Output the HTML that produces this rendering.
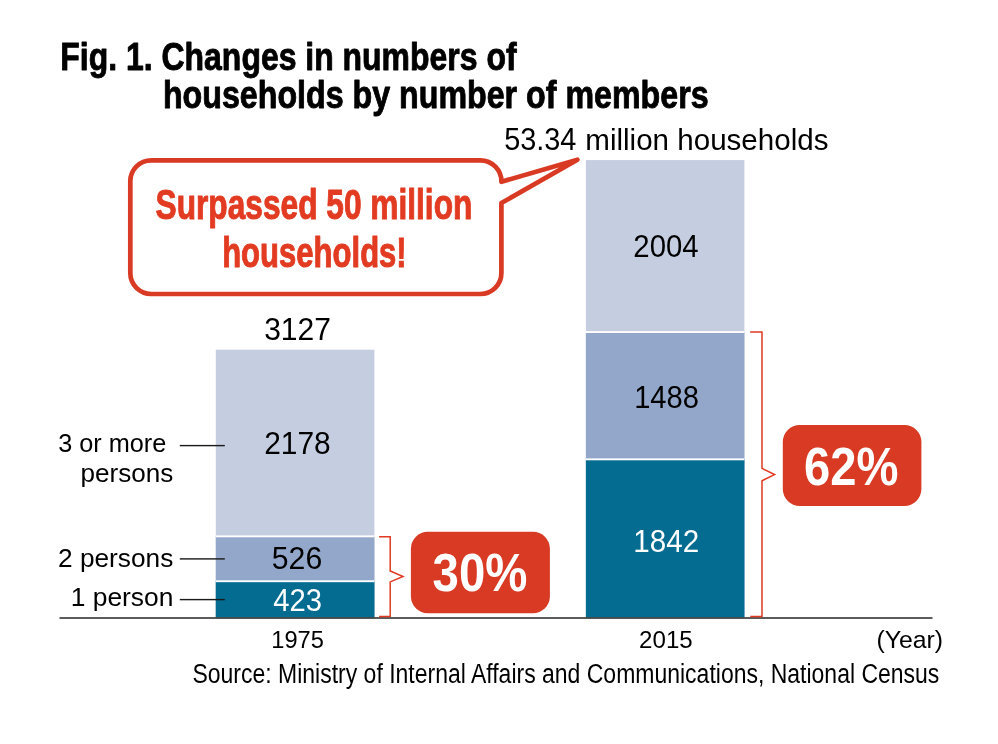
<!DOCTYPE html>
<html><head><meta charset="utf-8">
<style>
html,body{margin:0;padding:0;background:#fff;}
body{width:998px;height:744px;overflow:hidden;font-family:"Liberation Sans",sans-serif;}
svg{display:block;will-change:transform;}
text{font-family:"Liberation Sans",sans-serif;}
</style></head><body>
<svg width="998" height="744" viewBox="0 0 998 744">
<rect width="998" height="744" fill="#fff"/>
<!-- title -->
<text x="60.33" y="69.9" font-weight="bold" font-size="38.3" textLength="456.21" lengthAdjust="spacingAndGlyphs" fill="#000" stroke="#000" stroke-width="0.9" stroke-linejoin="round">Fig. 1. Changes in numbers of</text>
<text x="162.91" y="107.6" font-weight="bold" font-size="38.3" textLength="545.67" lengthAdjust="spacingAndGlyphs" fill="#000" stroke="#000" stroke-width="0.9" stroke-linejoin="round">households by number of members</text>
<!-- total label -->
<text x="504.13" y="149.9" font-size="31" textLength="72.30" lengthAdjust="spacingAndGlyphs" fill="#000">53.34</text>
<text x="585.31" y="149.8" font-size="28.7" textLength="243.15" lengthAdjust="spacingAndGlyphs" fill="#000">million households</text>
<!-- bars 1975 -->
<rect x="215.8" y="349.7" width="158.6" height="268" fill="#c5cde1"/>
<rect x="215.8" y="536.3" width="158.6" height="82" fill="#93a7ca"/>
<rect x="215.8" y="581.2" width="158.6" height="37" fill="#046c90"/>
<rect x="215.8" y="535.4" width="158.6" height="1.9" fill="#fff"/>
<rect x="215.8" y="580.3" width="158.6" height="1.9" fill="#fff"/>
<!-- bars 2015 -->
<rect x="585.9" y="160.1" width="158.5" height="458" fill="#c5cde1"/>
<rect x="585.9" y="332" width="158.5" height="286" fill="#93a7ca"/>
<rect x="585.9" y="459.2" width="158.5" height="159" fill="#046c90"/>
<rect x="585.9" y="331.1" width="158.5" height="1.9" fill="#fff"/>
<rect x="585.9" y="458.4" width="158.5" height="1.9" fill="#fff"/>
<!-- axis -->
<rect x="59.5" y="617.1" width="873" height="1.8" fill="#4a4a4a"/>
<!-- callout -->
<path d="M151.3 160.3 H480.4 A21 21 0 0 1 501.4 181.8 L577.4 159.7 L501.4 203 V273 A21 21 0 0 1 480.4 294 H151.3 A21 21 0 0 1 130.3 273 V181.3 A21 21 0 0 1 151.3 160.3 Z" fill="#fff" stroke="#d93a24" stroke-width="4.7" stroke-linejoin="round"/>
<text x="155.59" y="219.0" font-weight="bold" font-size="42.5" textLength="316.75" lengthAdjust="spacingAndGlyphs" fill="#e23b22" stroke="#e23b22" stroke-width="1.0" stroke-linejoin="round">Surpassed 50 million</text>
<text x="222.14" y="266.5" font-weight="bold" font-size="42.5" textLength="184.58" lengthAdjust="spacingAndGlyphs" fill="#e23b22" stroke="#e23b22" stroke-width="1.0" stroke-linejoin="round">households!</text>
<!-- values -->
<text x="264.18" y="340.0" font-size="31" textLength="66.78" lengthAdjust="spacingAndGlyphs" fill="#000">3127</text>
<text x="264.13" y="454.0" font-size="31" textLength="66.58" lengthAdjust="spacingAndGlyphs" fill="#000">2178</text>
<text x="271.80" y="568.7" font-size="31" textLength="50.43" lengthAdjust="spacingAndGlyphs" fill="#000">526</text>
<text x="273.29" y="610.8" font-size="31" textLength="48.77" lengthAdjust="spacingAndGlyphs" fill="#fff">423</text>
<text x="633.35" y="256.8" font-size="31" textLength="65.28" lengthAdjust="spacingAndGlyphs" fill="#000">2004</text>
<text x="634.16" y="408.0" font-size="31" textLength="64.80" lengthAdjust="spacingAndGlyphs" fill="#000">1488</text>
<text x="633.28" y="551.8" font-size="31" textLength="65.84" lengthAdjust="spacingAndGlyphs" fill="#fff">1842</text>
<!-- category labels -->
<text x="58.23" y="451.5" font-size="26.2" textLength="108.10" lengthAdjust="spacingAndGlyphs" fill="#000">3 or more</text>
<text x="80.48" y="481.8" font-size="26.2" textLength="92.80" lengthAdjust="spacingAndGlyphs" fill="#000">persons</text>
<text x="58.04" y="566.5" font-size="26.2" textLength="115.27" lengthAdjust="spacingAndGlyphs" fill="#000">2 persons</text>
<text x="70.68" y="605.5" font-size="26.2" textLength="102.76" lengthAdjust="spacingAndGlyphs" fill="#000">1 person</text>
<g fill="#1a1a1a">
<rect x="179.8" y="444.9" width="45" height="1.4"/>
<rect x="179.8" y="558.2" width="45" height="1.4"/>
<rect x="179.8" y="598.9" width="45" height="1.4"/>
</g>
<!-- brackets -->
<g fill="none" stroke="#e03a22" stroke-width="1.5" stroke-linejoin="miter">
<path d="M379.1 536.8 H390.2 V571 L403 576.5 L390.2 581.9 V616.6 H379.1"/>
<path d="M750.2 332 H762 V468.3 L774.6 474.6 L762 480.7 V616.6 H750.2"/>
</g>
<!-- percent badges -->
<rect x="410.9" y="531.8" width="139" height="81.5" rx="17" ry="17" fill="#d93a24"/>
<text x="432.62" y="590.8" font-weight="bold" font-size="53" textLength="94.77" lengthAdjust="spacingAndGlyphs" fill="#fff">30%</text>
<rect x="782.8" y="424.9" width="138.6" height="81.1" rx="17" ry="17" fill="#d93a24"/>
<text x="804.07" y="484.5" font-weight="bold" font-size="53" textLength="94.37" lengthAdjust="spacingAndGlyphs" fill="#fff">62%</text>
<!-- x labels -->
<text x="271.27" y="647.7" font-size="24.8" textLength="52.61" lengthAdjust="spacingAndGlyphs" fill="#000">1975</text>
<text x="639.10" y="647.7" font-size="24.8" textLength="53.68" lengthAdjust="spacingAndGlyphs" fill="#000">2015</text>
<text x="876.39" y="647.7" font-size="24.8" textLength="66.65" lengthAdjust="spacingAndGlyphs" fill="#000">(Year)</text>
<text x="192.46" y="682.6" font-size="26.8" textLength="746.90" lengthAdjust="spacingAndGlyphs" fill="#000">Source: Ministry of Internal Affairs and Communications, National Census</text>
</svg>
</body></html>
